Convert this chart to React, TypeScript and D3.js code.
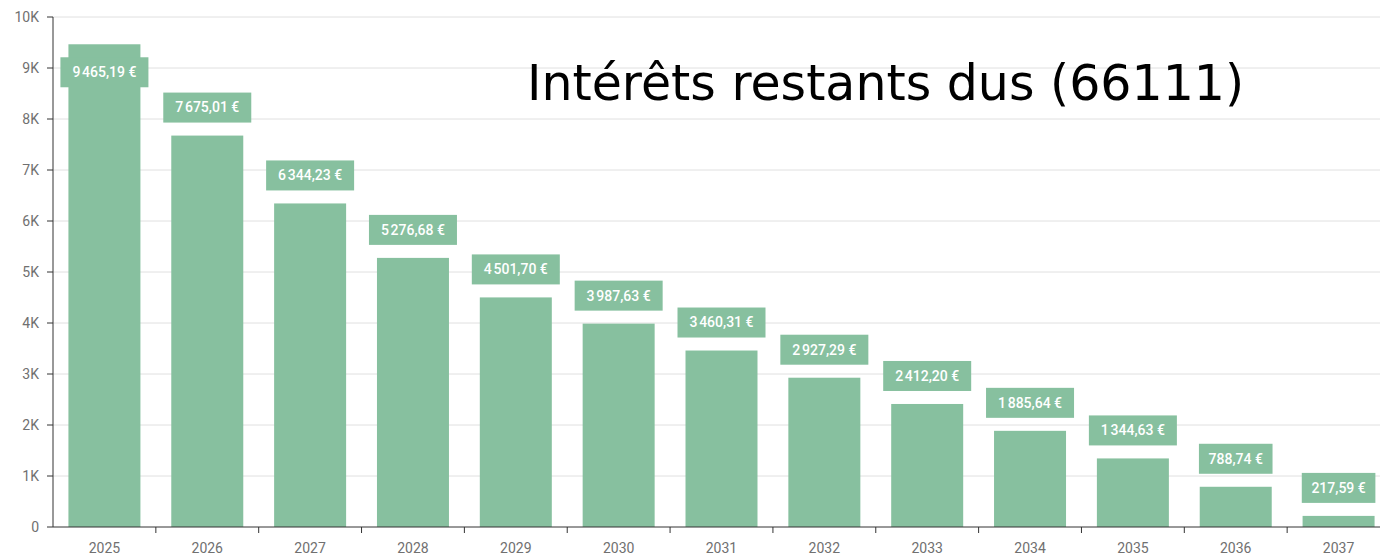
import * as d3 from "d3";

const years = ["2025", "2026", "2027", "2028", "2029", "2030", "2031", "2032", "2033", "2034", "2035", "2036", "2037"];
const interets = [9465.19, 7675.01, 6344.23, 5276.68, 4501.7, 3987.63, 3460.31, 2927.29, 2412.2, 1885.64, 1344.63, 788.74, 217.59];
const yTicks = [0, 1000, 2000, 3000, 4000, 5000, 6000, 7000, 8000, 9000, 10000];
const title = "Intérêts restants dus (66111)";

const width = 1380;
const height = 556;
const barColor = "#87c09f";

const fmtNum = (v: number) => {
  const [ent, dec] = v.toFixed(2).split(".");
  const grouped = ent.replace(/\B(?=(\d{3})+(?!\d))/g, "\u202f");
  return `${grouped},${dec} €`;
};
const fmtTick = (v: number) => (v === 0 ? "0" : `${v / 1000}K`);

const App = () => {
  const x = d3.scaleBand().domain(years).range([53, 1390]).paddingInner(0.3).paddingOuter(0.15);
  const y = d3.scaleLinear().domain([0, 10000]).range([527, 17]);
  const step = x.step();
  const bounds = years.map((_, i) => 53 + step * i);

  return (
    <svg width={width} height={height} style={{ position: "absolute", left: 0, top: 0 }} fontFamily="Roboto">
      {yTicks.map((t) => (
        <g key={t}>
          {t > 0 && <line x1={53} x2={width} y1={y(t)} y2={y(t)} stroke="#e0e0e0" />}
          <line x1={47} x2={53} y1={y(t)} y2={y(t)} stroke="#333" />
          <text x={39} y={y(t)} dy="0.35em" textAnchor="end" fontSize={14} fill="#707070">
            {fmtTick(t)}
          </text>
        </g>
      ))}
      {interets.map((v, i) => (
        <rect key={years[i]} x={x(years[i])} y={y(v)} width={x.bandwidth()} height={y(0) - y(v)} fill={barColor} />
      ))}
      <line x1={53} x2={53} y1={17} y2={527} stroke="#333" />
      <line x1={53} x2={width} y1={527} y2={527} stroke="#333" />
      {bounds.slice(1).map((bx) => (
        <line key={bx} x1={bx} x2={bx} y1={527} y2={533} stroke="#333" />
      ))}
      {years.map((yr) => (
        <text key={yr} x={(x(yr) ?? 0) + x.bandwidth() / 2} y={553} textAnchor="middle" fontSize={14} fill="#707070">
          {yr}
        </text>
      ))}
      <text x={527} y={100} fontFamily="DejaVu Sans" fontSize={49} fill="#000">
        {title}
      </text>
      {interets.map((v, i) => {
        const label = fmtNum(v);
        const w = label.length * 7.2 + 16;
        const cx = (x(years[i]) ?? 0) + x.bandwidth() / 2;
        let cy = y(v) - 28;
        if (cy - 15 < 17) cy = y(v) + 28;
        return (
          <g key={"l" + years[i]}>
            <rect x={cx - w / 2} y={cy - 15} width={w} height={30} fill={barColor} />
            <text x={cx} y={cy} dy="0.35em" textAnchor="middle" fontSize={14} fontWeight={500} fill="#fff">
              {label}
            </text>
          </g>
        );
      })}
    </svg>
  );
};

export default App;
